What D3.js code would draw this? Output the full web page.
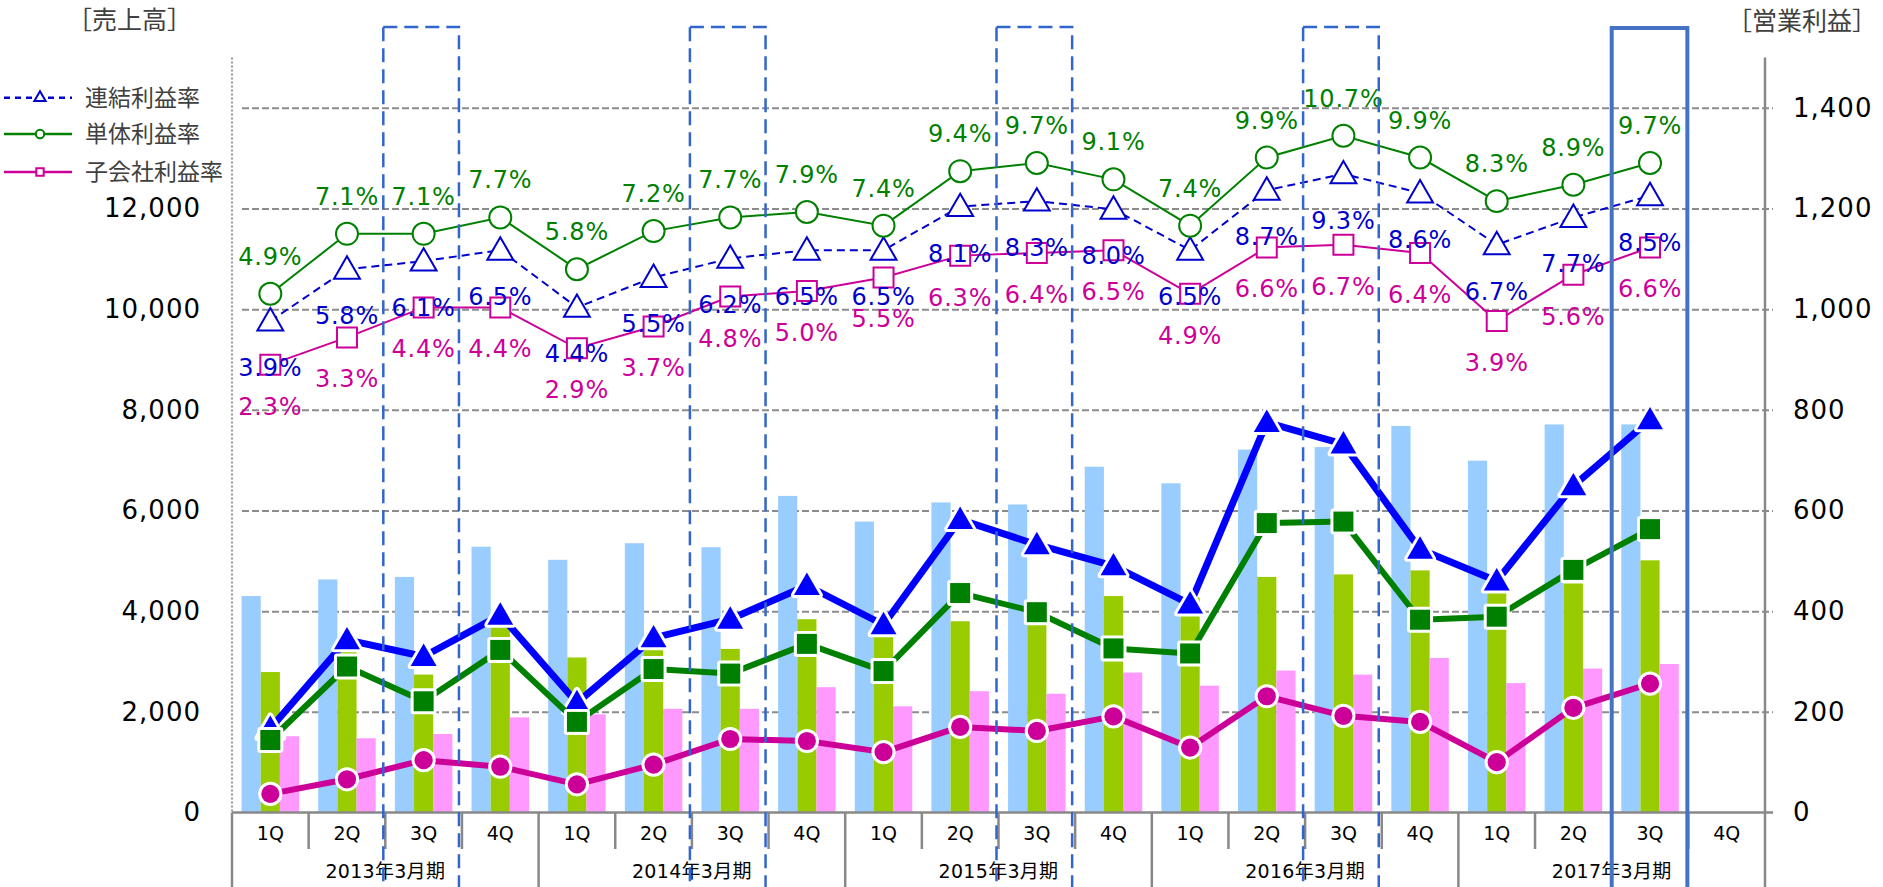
<!DOCTYPE html>
<html>
<head>
<meta charset="utf-8">
<script src="https://cdn.jsdelivr.net/npm/d3@7"></script>
<style>
  body { margin: 0; background: #fff; }
  svg text { font-family: "DejaVu Sans", "Noto Sans CJK JP", sans-serif; }
</style>
</head>
<body>
<script>
// --- data ---
const years = ["2013年3月期", "2014年3月期", "2015年3月期", "2016年3月期", "2017年3月期"];
const quarters = ["1Q", "2Q", "3Q", "4Q"];

// 売上高 (left axis)
const salesConsol = [4300, 4630, 4680, 5280, 5020, 5350, 5270, 6290, 5780, 6160, 6120, 6870, 6540, 7210, 7260, 7680, 6990, 7710, 7710];
const salesSingle = [2790, 3300, 2740, 3800, 3080, 3350, 3250, 3840, 3790, 3800, 3900, 4300, 4270, 4680, 4730, 4810, 4600, 4550, 5010];
const salesSub = [1515, 1475, 1560, 1890, 1950, 2060, 2060, 2490, 2110, 2410, 2360, 2780, 2520, 2820, 2740, 3070, 2570, 2860, 2950];

// 営業利益 (right axis)
const opConsol = [167, 343, 310, 392, 218, 347, 384, 451, 373, 582, 532, 490, 414, 775, 732, 523, 460, 649, 780];
const opSingle = [144, 290, 221, 323, 180, 285, 276, 335, 281, 436, 398, 326, 316, 575, 578, 383, 389, 482, 563];
const opSub = [37, 66, 104, 91, 56, 95, 146, 142, 120, 170, 162, 191, 129, 231, 192, 180, 100, 208, 256];

// 利益率 (%)
const rateConsol = [3.9, 5.8, 6.1, 6.5, 4.4, 5.5, 6.2, 6.5, 6.5, 8.1, 8.3, 8.0, 6.5, 8.7, 9.3, 8.6, 6.7, 7.7, 8.5];
const rateSingle = [4.9, 7.1, 7.1, 7.7, 5.8, 7.2, 7.7, 7.9, 7.4, 9.4, 9.7, 9.1, 7.4, 9.9, 10.7, 9.9, 8.3, 8.9, 9.7];
const rateSub = [2.3, 3.3, 4.4, 4.4, 2.9, 3.7, 4.8, 5.0, 5.5, 6.3, 6.4, 6.5, 4.9, 6.6, 6.7, 6.4, 3.9, 5.6, 6.6];

const leftTicks = [0, 2000, 4000, 6000, 8000, 10000, 12000];
const rightTicks = [0, 200, 400, 600, 800, 1000, 1200, 1400];
const gridTicks = [2000, 4000, 6000, 8000, 10000, 12000, 14000];
const highlightQ = [2, 6, 10, 14];
const currentQ = 18;

// --- layout ---
const width = 1883, height = 887;
const plot = { left: 232, right: 1765, top: 57.5, bottom: 812.5 };
const pctZero = 427.3, pctUnit = 27.25;

const categories = [];
years.forEach(y => quarters.forEach(q => categories.push(y + "-" + q)));

const x = d3.scaleBand().domain(categories).range([plot.left, plot.right]);
const bw = x.bandwidth();
const xs = d3.scaleBand().domain(["consol", "single", "sub"]).range([0, bw]).paddingInner(0).paddingOuter(0.5);
const yL = d3.scaleLinear().domain([0, 15000]).range([plot.bottom, plot.top]);
const yR = d3.scaleLinear().domain([0, 1500]).range([plot.bottom, plot.top]);
const yP = d3.scaleLinear().domain([0, 10]).range([pctZero, pctZero - 10 * pctUnit]);
const cx = i => x(categories[i]) + bw / 2;

const svg = d3.select("body").append("svg")
    .attr("width", width)
    .attr("height", height);

// titles
svg.append("text")
    .attr("x", 67).attr("y", 20)
    .attr("dominant-baseline", "central")
    .attr("fill", "#404040")
    .style("font-size", "25px")
    .text("［売上高］");
svg.append("text")
    .attr("x", 1727).attr("y", 21)
    .attr("dominant-baseline", "central")
    .attr("fill", "#404040")
    .style("font-size", "25px")
    .text("［営業利益］");

// grid
let grid = svg.append("g")
    .attr("transform", `translate(${plot.left},0)`)
    .call(d3.axisLeft(yL).tickValues(gridTicks).tickSize(-(plot.right + 8 - plot.left)).tickFormat(""));
grid.select(".domain").remove();
grid.selectAll(".tick line")
    .attr("x1", 10)
    .attr("stroke", "#8c8c8c")
    .attr("stroke-width", 2)
    .attr("stroke-dasharray", "7,3");

svg.append("line")
    .attr("x1", plot.left).attr("x2", plot.left)
    .attr("y1", plot.top).attr("y2", plot.bottom)
    .attr("stroke", "#999").attr("stroke-width", 2).attr("stroke-dasharray", "2,2");

// left axis labels
let axL = svg.append("g")
    .attr("transform", `translate(${plot.left - 31},0)`)
    .call(d3.axisLeft(yL).tickValues(leftTicks).tickSize(0).tickFormat(d3.format(",")));
axL.select(".domain").remove();
axL.selectAll("text").attr("x", 0).attr("fill", "#000")
    .style("font-size", "26px").style("letter-spacing", "1px");

// right axis labels
let axR = svg.append("g")
    .attr("transform", `translate(${plot.right + 28},0)`)
    .call(d3.axisRight(yR).tickValues(rightTicks).tickSize(0).tickFormat(d3.format(",")));
axR.select(".domain").remove();
axR.selectAll("text").attr("x", 0).attr("fill", "#000")
    .style("font-size", "26px").style("letter-spacing", "1px");

// bars
const barSeries = [
  { key: "consol", values: salesConsol, color: "#99ccff" },
  { key: "single", values: salesSingle, color: "#99cc00" },
  { key: "sub", values: salesSub, color: "#ff99ff" }
];
for (let s of barSeries) {
  svg.append("g").selectAll("rect")
      .data(s.values)
    .enter().append("rect")
      .attr("x", (d, i) => x(categories[i]) + xs(s.key))
      .attr("width", xs.bandwidth())
      .attr("y", d => yL(d))
      .attr("height", d => yL(0) - yL(d))
      .attr("fill", s.color);
}

// axes frame
svg.append("line")
    .attr("x1", plot.left).attr("x2", plot.right + 8)
    .attr("y1", plot.bottom).attr("y2", plot.bottom)
    .attr("stroke", "#888").attr("stroke-width", 2.5);
svg.append("line")
    .attr("x1", plot.right).attr("x2", plot.right)
    .attr("y1", plot.top).attr("y2", height)
    .attr("stroke", "#888").attr("stroke-width", 2.5);

// category separators
let sep = svg.append("g");
categories.forEach((c, i) => {
  let long = i % 4 === 0;
  sep.append("line")
      .attr("x1", x(c)).attr("x2", x(c))
      .attr("y1", plot.bottom).attr("y2", long ? height : 849)
      .attr("stroke", "#888").attr("stroke-width", 2.5);
});

svg.append("g").selectAll("text")
    .data(categories)
  .enter().append("text")
    .attr("x", d => x(d) + bw / 2)
    .attr("y", 833)
    .attr("text-anchor", "middle")
    .attr("dominant-baseline", "central")
    .style("font-size", "19px")
    .text(d => d.split("-")[1]);

svg.append("g").selectAll("text")
    .data(years)
  .enter().append("text")
    .attr("x", (d, i) => x(categories[i * 4]) + bw * 2)
    .attr("y", 871)
    .attr("text-anchor", "middle")
    .attr("dominant-baseline", "central")
    .style("font-size", "19px")
    .style("letter-spacing", "0.3px")
    .text(d => d);

// rate lines (thin, hollow markers)
const rateSeries = [
  { values: rateConsol, color: "#0000cc", dash: "8,5", marker: d3.symbolTriangle, size: 290, labelDy: 47 },
  { values: rateSingle, color: "#008000", dash: null, marker: d3.symbolCircle, size: 380, labelDy: -37 },
  { values: rateSub, color: "#cc0099", dash: null, marker: d3.symbolSquare, size: 400, labelDy: 42 }
];
for (let s of rateSeries) {
  svg.append("path")
      .datum(s.values)
      .attr("fill", "none")
      .attr("stroke", s.color)
      .attr("stroke-width", 2)
      .attr("stroke-dasharray", s.dash)
      .attr("d", d3.line().x((d, i) => cx(i)).y(d => yP(d)));
}
for (let s of rateSeries) {
  svg.append("g").selectAll("path")
      .data(s.values)
    .enter().append("path")
      .attr("transform", (d, i) => `translate(${cx(i)},${yP(d) + (s.marker === d3.symbolTriangle ? 2 : 0)})`)
      .attr("d", d3.symbol(s.marker, s.size))
      .attr("fill", "#fff")
      .attr("stroke", s.color)
      .attr("stroke-width", 2);
}

// operating profit lines (thick, filled markers with white border)
const opSeries = [
  { values: opConsol, color: "#0000ff", width: 7, marker: d3.symbolTriangle, size: 290 },
  { values: opSingle, color: "#008000", width: 6, marker: d3.symbolSquare, size: 400 },
  { values: opSub, color: "#cc0099", width: 6, marker: d3.symbolCircle, size: 260 }
];
for (let s of opSeries) {
  svg.append("path")
      .datum(s.values)
      .attr("fill", "none")
      .attr("stroke", s.color)
      .attr("stroke-width", s.width)
      .attr("stroke-linejoin", "round")
      .attr("d", d3.line().x((d, i) => cx(i)).y(d => yR(d)));
  let m = svg.append("g").selectAll("g")
      .data(s.values)
    .enter().append("g")
      .attr("transform", (d, i) => `translate(${cx(i)},${yR(d) + (s.marker === d3.symbolTriangle ? 2 : 0)})`);
  m.append("path")
      .attr("d", d3.symbol(s.marker, s.size))
      .attr("fill", s.color)
      .attr("stroke", "#fff")
      .attr("stroke-width", 6)
      .attr("stroke-linejoin", "round")
      .attr("paint-order", "stroke");
}

// rate labels
for (let s of rateSeries) {
  svg.append("g").selectAll("text")
      .data(s.values)
    .enter().append("text")
      .attr("x", (d, i) => cx(i))
      .attr("y", d => yP(d) + s.labelDy)
      .attr("text-anchor", "middle")
      .attr("dominant-baseline", "central")
      .attr("fill", s.color)
      .style("font-size", "24px")
      .style("letter-spacing", "0.8px")
      .text(d => d.toFixed(1) + "%");
}

// highlight frames
for (let i of highlightQ) {
  svg.append("rect")
      .attr("x", x(categories[i]) - 2)
      .attr("y", 27)
      .attr("width", bw - 1)
      .attr("height", height)
      .attr("fill", "none")
      .attr("stroke", "#3366cc")
      .attr("stroke-width", 2.5)
      .attr("stroke-dasharray", "14,7");
}
svg.append("rect")
    .attr("x", x(categories[currentQ]))
    .attr("y", 28)
    .attr("width", bw - 1)
    .attr("height", height)
    .attr("fill", "none")
    .attr("stroke", "#4472c4")
    .attr("stroke-width", 4);

// legend
const legendItems = [
  { name: "連結利益率", color: "#0000cc", dash: "6,5", marker: d3.symbolTriangle },
  { name: "単体利益率", color: "#008000", dash: null, marker: d3.symbolCircle },
  { name: "子会社利益率", color: "#cc0099", dash: null, marker: d3.symbolSquare }
];
let legend = svg.append("g").selectAll("g")
    .data(legendItems)
  .enter().append("g")
    .attr("transform", (d, i) => `translate(0,${[97.7, 134, 172][i]})`);
legend.append("line")
    .attr("x1", 4).attr("x2", 72)
    .attr("stroke", d => d.color)
    .attr("stroke-width", 2.5)
    .attr("stroke-dasharray", d => d.dash);
legend.append("path")
    .attr("transform", "translate(40,0)")
    .attr("d", d => d3.symbol(d.marker, 55)())
    .attr("fill", "#fff")
    .attr("stroke", d => d.color)
    .attr("stroke-width", 2);
legend.append("text")
    .attr("x", 85)
    .attr("dominant-baseline", "central")
    .attr("fill", "#404040")
    .style("font-size", "23px")
    .text(d => d.name);
</script>
</body>
</html>
